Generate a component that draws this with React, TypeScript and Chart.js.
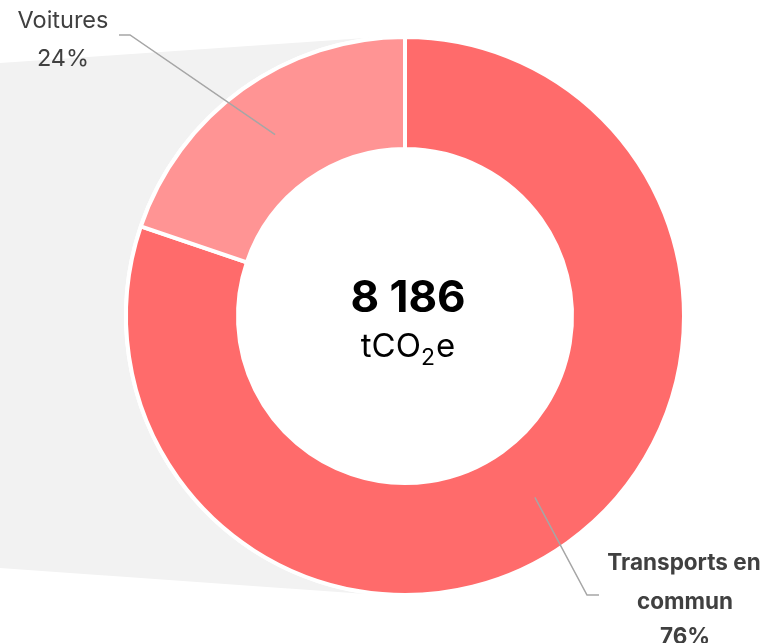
import React, { useEffect, useRef } from "react";
import { Chart, registerables } from "chart.js";

Chart.register(...registerables);

const categories = ["Transports en commun", "Voitures"];
const values = [6566, 1620];
const percentLabels = ["76%", "24%"];
const colors = ["#FF6B6B", "#FF9494"];
const unitParts = ["tCO", "2", "e"];

const FONT = "Inter, 'DejaVu Sans', sans-serif";

const decorPlugin = {
  id: "decor",
  beforeDatasetsDraw(chart: any) {
    const meta = chart.getDatasetMeta(0);
    const arc = meta.data[0];
    if (!arc) return;
    const { x: cx, y: cy, outerRadius } = arc.getProps(["x", "y", "outerRadius"], true);
    const R = outerRadius - 2;
    const ctx = chart.ctx;
    ctx.save();
    ctx.fillStyle = "#F2F2F2";
    ctx.beginPath();
    ctx.moveTo(0, cy - R + 24);
    ctx.lineTo(cx - 25, cy - R - 2);
    ctx.lineTo(cx - 25, cy + R + 2);
    ctx.lineTo(0, cy + R - 25);
    ctx.closePath();
    ctx.fill();
    ctx.fillStyle = "#FFFFFF";
    ctx.beginPath();
    ctx.arc(cx, cy, R + 4, 0, Math.PI * 2);
    ctx.fill();
    ctx.restore();
  },
  afterDatasetsDraw(chart: any) {
    const meta = chart.getDatasetMeta(0);
    const arcT = meta.data[0];
    const arcV = meta.data[1];
    if (!arcT || !arcV) return;
    const { x: cx, y: cy } = arcT.getProps(["x", "y"], true);
    const ctx = chart.ctx;
    ctx.save();
    // leader lines
    ctx.strokeStyle = "#A6A6A6";
    ctx.lineWidth = 1.5;
    const pV = arcV.getCenterPoint();
    ctx.beginPath();
    ctx.moveTo(pV.x, pV.y);
    ctx.lineTo(130, 35);
    ctx.lineTo(119, 35);
    ctx.stroke();
    const pT = arcT.getCenterPoint();
    ctx.beginPath();
    ctx.moveTo(pT.x, pT.y);
    ctx.lineTo(587, 595);
    ctx.lineTo(599, 595);
    ctx.stroke();

    // labels
    ctx.textAlign = "center";
    ctx.textBaseline = "middle";
    ctx.fillStyle = "#404040";
    ctx.font = `400 23.5px ${FONT}`;
    ctx.fillText("Voitures", 63, 21);
    ctx.fillText(percentLabels[1], 63, 59);

    ctx.font = `700 22.5px ${FONT}`;
    const words = categories[0].split(" ");
    ctx.fillText(words[0] + " " + words[1], 684, 563);
    ctx.fillText(words[2], 685, 602);
    ctx.fillText(percentLabels[0], 685, 637);

    // center
    const total = values.reduce((a, b) => a + b, 0);
    const totalStr = String(total).replace(/\B(?=(\d{3})+(?!\d))/g, " ");
    ctx.fillStyle = "#000000";
    ctx.font = `700 44px ${FONT}`;
    ctx.fillText(totalStr, cx + 3, cy - 17);

    ctx.textAlign = "left";
    ctx.textBaseline = "alphabetic";
    const bigF = `400 33px ${FONT}`;
    const smallF = `400 23px ${FONT}`;
    ctx.font = bigF;
    const w0 = ctx.measureText(unitParts[0]).width;
    const w2 = ctx.measureText(unitParts[2]).width;
    ctx.font = smallF;
    const w1 = ctx.measureText(unitParts[1]).width;
    const totalW = w0 + w1 + w2 + 1;
    let x = cx + 3 - totalW / 2;
    const base = cy + 41;
    ctx.font = bigF;
    ctx.fillText(unitParts[0], x, base);
    x += w0;
    ctx.font = smallF;
    ctx.fillText(unitParts[1], x, base + 8);
    x += w1 + 1;
    ctx.font = bigF;
    ctx.fillText(unitParts[2], x, base);
    ctx.restore();
  },
};

export default function App() {
  const ref = useRef<HTMLCanvasElement>(null);
  useEffect(() => {
    if (!ref.current) return;
    const chart = new Chart(ref.current, {
      type: "doughnut",
      data: {
        labels: categories,
        datasets: [
          {
            data: values,
            backgroundColor: colors,
            borderColor: "#FFFFFF",
            borderWidth: 4,
            hoverOffset: 0,
          },
        ],
      },
      options: {
        responsive: false,
        animation: false,
        radius: 279,
        cutout: "59.86%",
        layout: { padding: { left: 45, right: 0, top: 0, bottom: 11 } },
        plugins: {
          legend: { display: false },
          tooltip: { enabled: false },
        },
      } as any,
      plugins: [decorPlugin],
    });
    return () => chart.destroy();
  }, []);
  return (
    <div style={{ position: "absolute", left: 0, top: 0, width: 765, height: 643 }}>
      <canvas ref={ref} width={765} height={643} style={{ display: "block" }} />
    </div>
  );
}
